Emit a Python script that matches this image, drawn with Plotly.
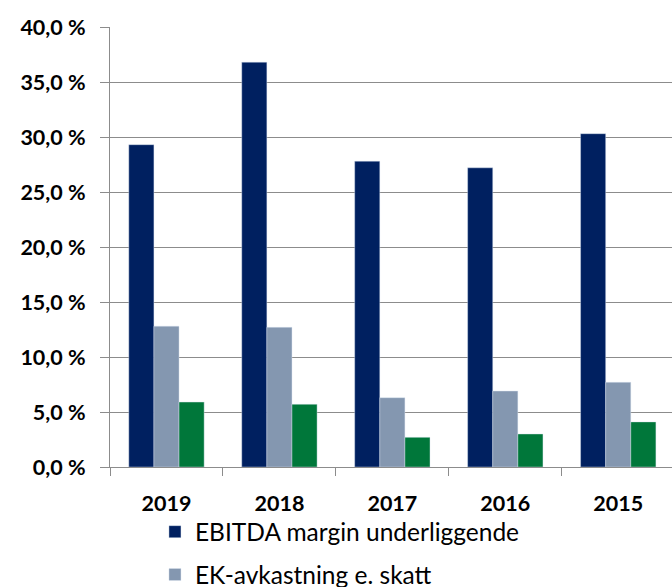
import plotly.graph_objects as go

years = ["2019", "2018", "2017", "2016", "2015"]
ebitda_margin = [29.3, 36.8, 27.8, 27.2, 30.3]
ek_avkastning = [12.8, 12.7, 6.3, 6.9, 7.7]
resultatgrad = [5.9, 5.7, 2.7, 3.0, 4.1]

series_names = ["EBITDA margin underliggende", "EK-avkastning e. skatt", "Resultatgrad"]
series_colors = ["#002060", "#8497B0", "#00773A"]

y_tick_values = [0, 5, 10, 15, 20, 25, 30, 35, 40]
y_tick_labels = ["0,0 %", "5,0 %", "10,0 %", "15,0 %", "20,0 %", "25,0 %", "30,0 %", "35,0 %", "40,0 %"]

fig = go.Figure()
for name, vals, col in zip(series_names, [ebitda_margin, ek_avkastning, resultatgrad], series_colors):
    fig.add_trace(go.Bar(
        x=years, y=vals, name=name, legendgroup=name,
        marker=dict(color=col, line=dict(color="rgba(220,228,240,0.7)", width=0.6)),
    ))

grid_col = "#8C8C8C"
fig.update_layout(
    width=672, height=587,
    margin=dict(l=110, r=0, t=27, b=120, autoexpand=False),
    paper_bgcolor="white", plot_bgcolor="white",
    barmode="group", bargap=0.333, bargroupgap=0,
    font=dict(family="Lato", color="black"),
    showlegend=True,
    legend=dict(
        orientation="v", x=0.08, xanchor="left", y=-0.096, yanchor="top",
        font=dict(family="Lato", size=24.5, color="black"),
        traceorder="grouped", tracegroupgap=8,
        bgcolor="rgba(0,0,0,0)",
    ),
    xaxis=dict(
        type="category", range=[-0.5, 4.476],
        showline=True, linecolor=grid_col, linewidth=1,
        ticks="outside", tickson="boundaries", ticklen=8, tickcolor=grid_col,
        tickfont=dict(family="Lato", size=21.5, weight="bold", color="black"),
        ticklabelstandoff=17,
        showgrid=False,
    ),
    yaxis=dict(
        range=[0, 40], tickvals=y_tick_values, ticktext=y_tick_labels,
        showline=True, linecolor=grid_col, linewidth=1,
        ticks="outside", ticklen=9, tickcolor=grid_col,
        showgrid=True, gridcolor=grid_col, gridwidth=1,
        zeroline=False,
        tickfont=dict(family="Lato", size=21.5, weight="bold", color="black"),
        ticklabelstandoff=10,
    ),
)

fig.write_html(
    "out.html",
    config={"displayModeBar": False},
    post_script="document.body.style.margin='0';document.body.style.overflow='hidden';",
)
